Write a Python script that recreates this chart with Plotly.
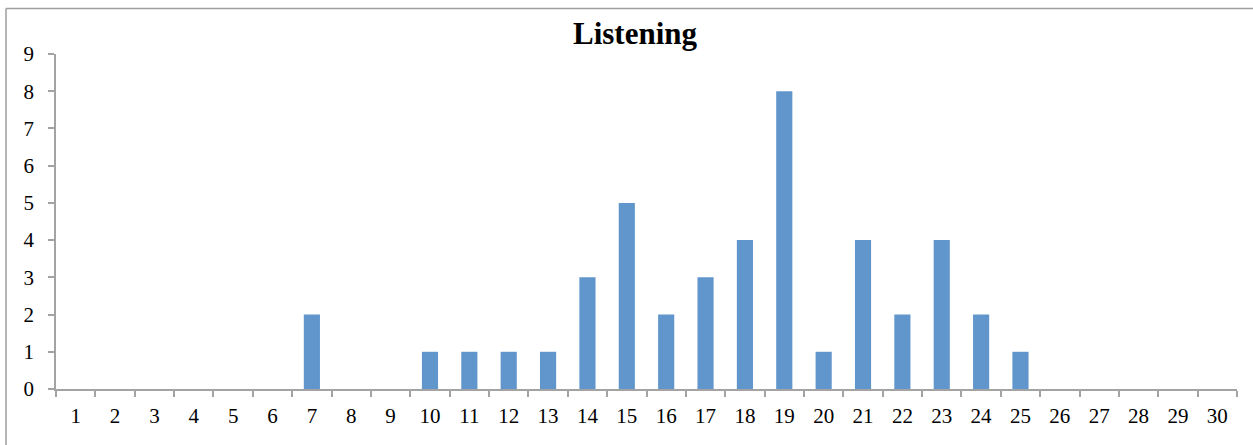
import plotly.graph_objects as go

# Score distribution for the listening test
categories = [str(i) for i in range(1, 31)]
counts = [0, 0, 0, 0, 0, 0, 2, 0, 0, 1,
          1, 1, 1, 3, 5, 2, 3, 4, 8, 1,
          4, 2, 4, 2, 1, 0, 0, 0, 0, 0]
y_ticks = list(range(0, 10))

W, H = 1253, 445
L, R, T, B = 56, 16, 54, 56
pw, ph = W - L - R, H - T - B

def px_x(p):
    return (p - L) / pw

def px_y(p):
    return (H - B - p) / ph

axis_grey = "#A3A3A3"
font_family = "Liberation Serif, Times New Roman, serif"

fig = go.Figure(
    go.Bar(
        x=categories,
        y=counts,
        marker=dict(color="#6096CB", line=dict(width=0)),
    )
)

fig.update_layout(
    width=W,
    height=H,
    margin=dict(l=L, r=R, t=T, b=B, pad=0),
    paper_bgcolor="white",
    plot_bgcolor="white",
    bargap=0.59,
    showlegend=False,
    font=dict(family=font_family, size=21, color="black"),
    title=dict(
        text="<b>Listening</b>",
        font=dict(family=font_family, size=31, color="black"),
        x=635 / W,
        xanchor="center",
        xref="container",
        y=1 - 33 / H,
        yanchor="middle",
        yref="container",
    ),
    shapes=[
        # chart frame (left and top edges visible)
        dict(type="line", xref="paper", yref="paper",
             x0=px_x(6), x1=px_x(6), y0=px_y(8.5), y1=px_y(460),
             line=dict(color="#9E9E9E", width=1.5)),
        dict(type="line", xref="paper", yref="paper",
             x0=px_x(6), x1=px_x(1270), y0=px_y(8.5), y1=px_y(8.5),
             line=dict(color="#9E9E9E", width=1.5)),
    ],
)

fig.update_xaxes(
    type="category",
    categoryorder="array",
    categoryarray=categories,
    tickson="boundaries",
    ticks="outside",
    ticklen=6,
    tickwidth=1.5,
    tickcolor=axis_grey,
    showline=True,
    linecolor=axis_grey,
    linewidth=1.5,
    showgrid=False,
    zeroline=False,
    ticklabelstandoff=7,
    fixedrange=True,
)

fig.update_yaxes(
    range=[0, 9],
    tickvals=y_ticks,
    ticktext=[str(v) for v in y_ticks],
    ticks="outside",
    ticklen=6,
    tickwidth=1.5,
    tickcolor=axis_grey,
    showline=True,
    linecolor=axis_grey,
    linewidth=1.5,
    showgrid=False,
    zeroline=False,
    ticklabelstandoff=10,
    fixedrange=True,
)

fig.write_html("out.html")
